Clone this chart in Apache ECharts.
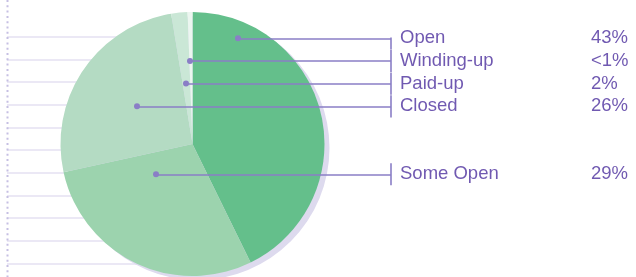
<!DOCTYPE html>
<html>
<head>
<meta charset="utf-8">
<script src="https://cdn.jsdelivr.net/npm/echarts@6/dist/echarts.min.js"></script>
<style>
  html, body { margin: 0; padding: 0; background: #fff; }
  #chart { width: 636px; height: 277px; }
</style>
</head>
<body>
<div id="chart"></div>
<script>
// slice data, clockwise from 12 o'clock
const names = ['Open', 'Some Open', 'Closed', 'Paid-up', 'Winding-up'];
const values = [43, 29, 26, 2, 0.6];
const pctText = ['43%', '29%', '26%', '2%', '<1%'];
const colors = ['#64bf8b', '#9cd3ae', '#b4dbc3', '#cae7d6', '#ecf6f0'];

// label rows (row index on the ruled background) and where each leader dot sits
const labelRow = [0, 6, 3, 2, 1];
const dotX = [238, 156, 137, 186, 190];

const purple = '#4c2f9e';
const lineCol = '#8a7ec6';
const font = '"Liberation Sans", Arial, Helvetica, sans-serif';

const chart = echarts.init(document.getElementById('chart'), null, { renderer: 'canvas' });

const hLines = names.map((n, i) => ({ coords: [[dotX[i], labelRow[i]], [391, labelRow[i]]] }));
const vTicks = names.map((n, i) => ({ coords: [[391, labelRow[i] - 0.49], [391, labelRow[i] + 0.49]] }));

const option = {
  animation: false,
  grid: [
    // ruled background lines
    { left: 7, right: 443, top: 36.7, bottom: 13.7 },
    // label layer, x in pixels
    { left: 0, right: 0, top: 38.3, bottom: 12.1 }
  ],
  xAxis: [
    { gridIndex: 0, type: 'value', min: 0, max: 1, show: false },
    { gridIndex: 1, type: 'value', min: 0, max: 636, show: false }
  ],
  yAxis: [
    {
      gridIndex: 0, type: 'value', min: 0, max: 10, interval: 1, inverse: true,
      axisLine: { show: false }, axisTick: { show: false }, axisLabel: { show: false },
      splitLine: { show: true, lineStyle: { color: '#e4e0f2', width: 1.6 } }
    },
    {
      gridIndex: 1, type: 'value', min: 0, max: 10, inverse: true, show: false,
      splitLine: { show: false }
    }
  ],
  graphic: [{
    type: 'line',
    shape: { x1: 7.5, y1: 0, x2: 7.5, y2: 277 },
    style: { stroke: '#c6bfe3', lineWidth: 2, lineDash: [2, 3.3] },
    z: 1
  }],
  series: [
    {
      // drop shadow disc
      type: 'pie',
      silent: true,
      center: [197.5, 148],
      radius: 132,
      startAngle: 90,
      label: { show: false },
      labelLine: { show: false },
      itemStyle: { color: '#dddaee', borderWidth: 0 },
      emphasis: { disabled: true },
      z: 2,
      data: [{ value: 1, name: 'shadow' }]
    },
    {
      type: 'pie',
      center: [192.5, 144],
      radius: 132,
      startAngle: 90,
      clockwise: true,
      label: { show: false },
      labelLine: { show: false },
      itemStyle: { borderWidth: 0 },
      emphasis: { disabled: true },
      z: 3,
      data: names.map((n, i) => ({ name: n, value: values[i], itemStyle: { color: colors[i] } }))
    },
    {
      type: 'lines',
      coordinateSystem: 'cartesian2d',
      xAxisIndex: 1, yAxisIndex: 1,
      silent: true,
      z: 5,
      lineStyle: { color: lineCol, width: 1.6, opacity: 1 },
      data: hLines.concat(vTicks)
    },
    {
      type: 'scatter',
      xAxisIndex: 1, yAxisIndex: 1,
      silent: true,
      z: 6,
      symbolSize: 6,
      itemStyle: { color: lineCol, opacity: 1 },
      data: names.map((n, i) => [dotX[i], labelRow[i]])
    },
    {
      type: 'scatter',
      xAxisIndex: 1, yAxisIndex: 1,
      silent: true,
      z: 6,
      symbolSize: 0,
      label: {
        show: true,
        position: 'right',
        distance: 0,
        formatter: (p) => '{n|' + names[p.dataIndex] + '}{p|' + pctText[p.dataIndex] + '}',
        rich: {
          n: { width: 191, fontSize: 18.5, fontFamily: font, color: purple },
          p: { fontSize: 18.5, fontFamily: font, color: purple }
        }
      },
      data: names.map((n, i) => [400, labelRow[i]])
    }
  ]
};

chart.setOption(option);
</script>
</body>
</html>
